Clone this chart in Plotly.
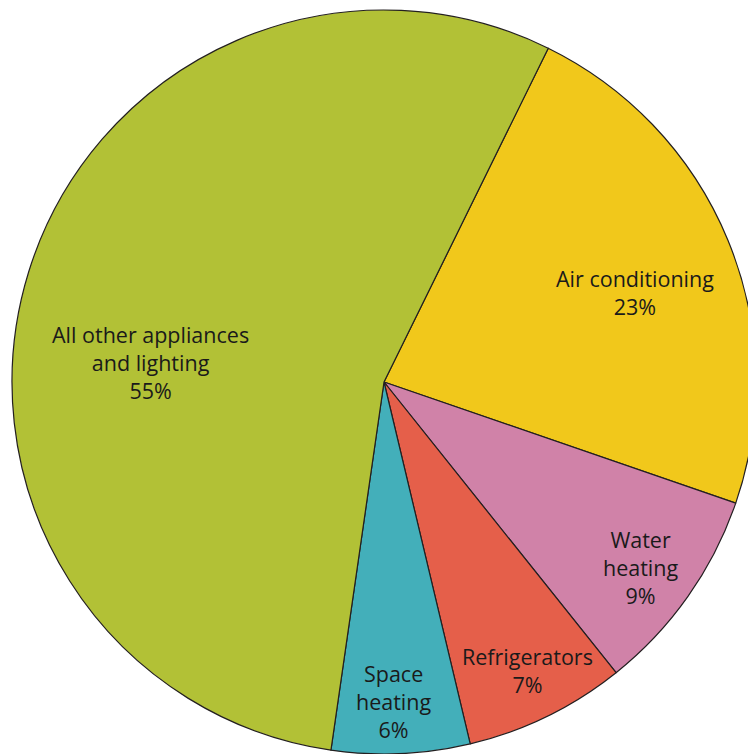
import plotly.graph_objects as go

# Residential electricity end uses, share of total (%)
labels = ["Air conditioning", "Water heating", "Refrigerators", "Space heating",
          "All other appliances and lighting"]
display_labels = ["Air conditioning", "Water<br>heating", "Refrigerators", "Space<br>heating",
                  "All other appliances<br>and lighting"]
values = [23, 9, 7, 6, 55]
colors = ["#F1C81B", "#D082A8", "#E55F4A", "#43AFBA", "#B2C136"]

# Canvas and pie geometry (pixels)
W, H = 760, 760
CX, CY, R = 384, 382, 372

# Label anchor points (pixel centres of each text block)
label_px = [(635, 292), (640, 567), (527, 670), (394, 701), (150, 362)]

fig = go.Figure(go.Pie(
    labels=labels,
    values=values,
    sort=False,
    direction="clockwise",
    rotation=26.2,
    marker=dict(colors=colors, line=dict(color="#231F20", width=1.2)),
    textinfo="none",
    hoverinfo="label+percent",
    showlegend=False,
    domain=dict(x=[(CX - R) / W, (CX + R) / W],
                y=[1 - (CY + R) / H, 1 - (CY - R) / H]),
))

for text, val, (px, py) in zip(display_labels, values, label_px):
    fig.add_annotation(
        x=px / W, y=1 - py / H, xref="paper", yref="paper",
        text=f"{text}<br>{val}%", showarrow=False,
        font=dict(family="Open Sans", size=21.5, color="#1A1A1A"),
        align="center", xanchor="center", yanchor="middle",
    )

fig.update_layout(
    width=W, height=H,
    margin=dict(l=0, r=0, t=0, b=0),
    paper_bgcolor="white",
    plot_bgcolor="white",
)

fig.write_html(
    "out.html",
    post_script="document.body.style.margin='0';document.body.style.overflow='hidden';",
)
